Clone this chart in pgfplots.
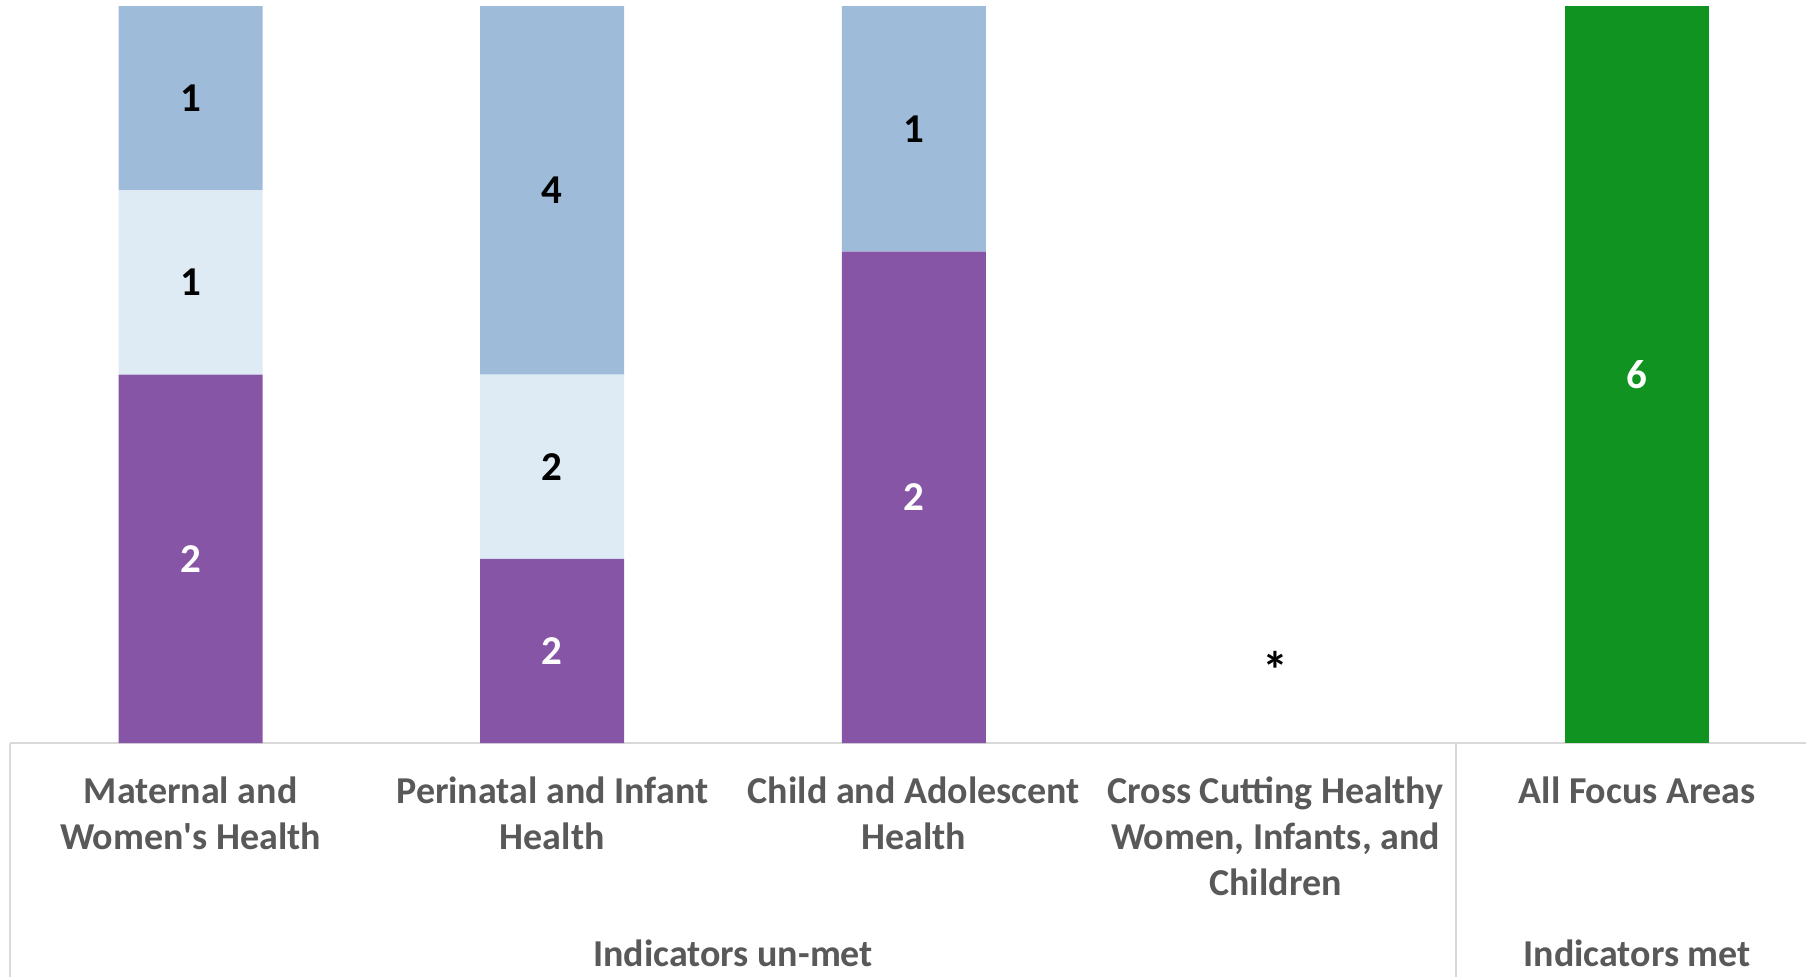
\documentclass[border=0pt]{standalone}
\usepackage{pgfplots}
\pgfplotsset{compat=1.18}
\usepackage{fontspec}
\setmainfont{Carlito}
\definecolor{cpurple}{HTML}{8755A5}
\definecolor{clight}{HTML}{DEEBF4}
\definecolor{cblue}{HTML}{9FBBDA}
\definecolor{cgreen}{HTML}{109321}
\definecolor{labelgray}{HTML}{595959}
\definecolor{linegray}{HTML}{D9D9D9}
\begin{document}
\begin{tikzpicture}
\useasboundingbox (-4.9pt,-116.5pt) rectangle (898.1pt,371.5pt);
\clip (-4.9pt,-116.5pt) rectangle (898.1pt,371.5pt);
\begin{axis}[
  scale only axis, width=898.1pt, height=368.5pt,
  xmin=-0.5, xmax=4.467, ymin=0, ymax=100,
  ybar stacked, bar width=72pt,
  axis y line=none,
  axis x line*=bottom,
  x axis line style={draw=linegray, line width=1pt},
  xtick={0,1,2,3,4},
  xtick style={draw=none},
  ytick=\empty,
  xticklabels={{Maternal and\\Women\textquotesingle s Health},{Perinatal and Infant\\Health},{Child and Adolescent\\Health},{Cross Cutting Healthy\\Women, Infants, and\\Children},{All Focus Areas}},
  xticklabel style={align=center, font=\fontsize{19}{23.2}\selectfont\bfseries, text=labelgray, anchor=north, inner sep=0pt, yshift=-16.5pt},
  clip=false,
  point meta=explicit symbolic,
  nodes near coords,
  every node near coord/.append style={anchor=center, font=\fontsize{20.5}{24}\selectfont\bfseries},
]
\addplot[fill=cpurple, draw=none, every node near coord/.append style={text=white}]
  coordinates {(0,50) [2] (1,25) [2] (2,66.67) [2] (3,0) [] (4,0) []};
\addplot[fill=clight, draw=none, every node near coord/.append style={text=black}]
  coordinates {(0,25) [1] (1,25) [2] (2,0) [] (3,0) [] (4,0) []};
\addplot[fill=cblue, draw=none, every node near coord/.append style={text=black}]
  coordinates {(0,25) [1] (1,50) [4] (2,33.33) [1] (3,0) [] (4,0) []};
\addplot[fill=cgreen, draw=none, every node near coord/.append style={text=white}]
  coordinates {(0,0) [] (1,0) [] (2,0) [] (3,0) [] (4,100) [6]};
\node[anchor=base, font=\fontsize{26}{30}\selectfont\bfseries] at (axis cs:3,7.4) {*};
\draw[linegray, line width=1pt] (axis cs:-0.5,0) -- ++(0pt,-140pt);
\draw[linegray, line width=1pt] (axis cs:3.5,0) -- ++(0pt,-140pt);
\node[anchor=base, font=\fontsize{19}{23.2}\selectfont\bfseries, text=labelgray] at (axis cs:1.5,0) [yshift=-111.5pt] {Indicators un-met};
\node[anchor=base, font=\fontsize{19}{23.2}\selectfont\bfseries, text=labelgray] at (axis cs:4,0) [yshift=-111.5pt] {Indicators met};
\end{axis}
\end{tikzpicture}
\end{document}
